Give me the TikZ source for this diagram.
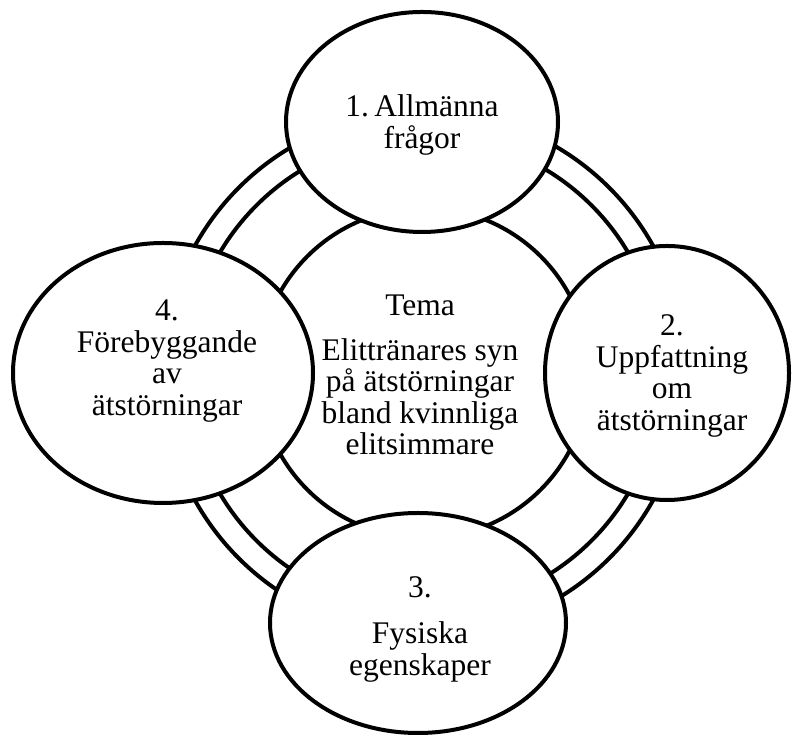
\documentclass[tikz,border=0pt]{standalone}
\usepackage{fontspec}
\setmainfont{Liberation Serif}
\usetikzlibrary{shapes.geometric}
\begin{document}
\begin{tikzpicture}[x=1pt,y=1pt,
    ring/.style={draw,circle,line width=4pt,inner sep=0pt},
    blob/.style={draw,fill=white,ellipse,line width=4pt,inner sep=0pt},
    txt/.style={align=center,font=\fontsize{31.5}{31.5}\selectfont}]
  \useasboundingbox (0,0) rectangle (792,735);
  \node[ring,minimum size=524pt] (ringout) at (424,362) {};
  \node[ring,minimum size=474pt] (ringin) at (ringout.center) {};
  \node[ring,minimum size=330pt] (core) at (ringout.center) {};
  \node[blob,minimum width=272pt,minimum height=220pt] (e1) at (422,613) {};
  \node[blob,minimum width=244pt,minimum height=254pt] (e2) at (667,362) {};
  \node[blob,minimum width=296pt,minimum height=220pt] (e3) at (418,112) {};
  \node[blob,minimum width=300pt,minimum height=260pt] (e4) at (163,362) {};
  \node[txt] (tcore) at (420,360) {Tema\\[13pt]Elittränares syn\\på ätstörningar\\bland kvinnliga\\elitsimmare};
  \node[txt] (t1) at (422,610) {1.\,Allmänna\\frågor};
  \node[txt] (t2) at (672,359) {2.\\Uppfattning\\om\\ätstörningar};
  \node[txt] (t3) at (420,106) {3.\\[15pt]Fysiska\\egenskaper};
  \node[txt] (t4) at (167,374) {4.\\Förebyggande\\av\\ätstörningar};
\end{tikzpicture}
\end{document}
